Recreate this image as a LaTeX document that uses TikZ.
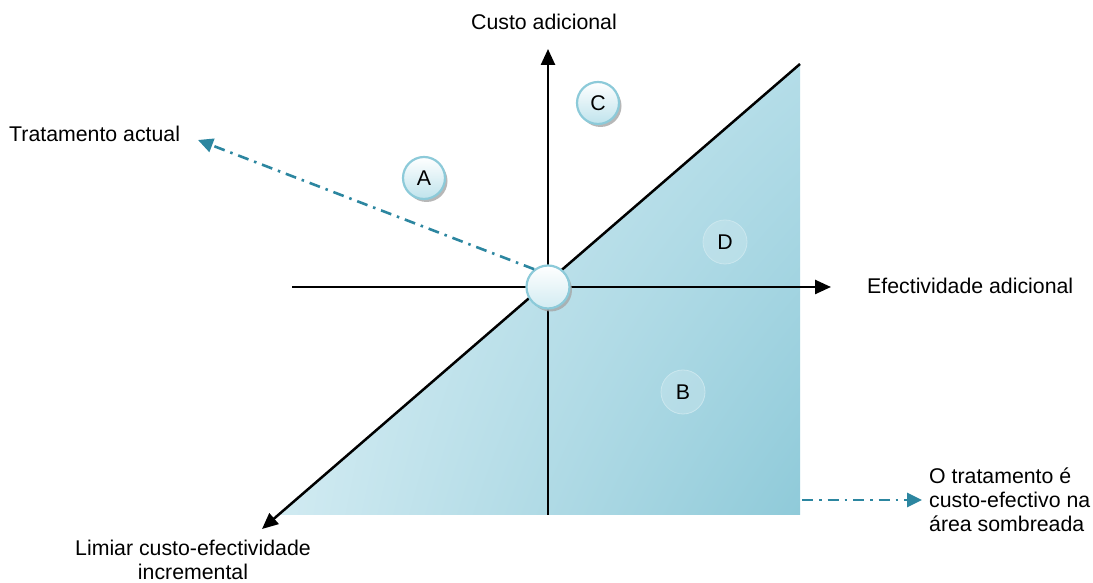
\documentclass[tikz,border=0pt]{standalone}
\usepackage{fontspec}
\setmainfont{Liberation Sans}
\usepackage{xcolor}
\usepackage{tikz}
\usetikzlibrary{arrows.meta,shadows,shadings}
\definecolor{shadelight}{HTML}{D8EEF4}
\definecolor{shademid}{HTML}{B4DDE8}
\definecolor{shadedark}{HTML}{8FCAD9}
\definecolor{ballrim}{HTML}{8CCAD9}
\definecolor{ballfill}{HTML}{BFE3EC}
\definecolor{pointer}{HTML}{2C86A0}
\tikzset{
  axis/.style={line width=2.5pt, draw=black, -{Triangle[length=16pt,width=14pt]}},
  pointerline/.style={line width=2.6pt, draw=pointer, dash pattern=on 11pt off 6pt on 2.5pt off 6pt,
    -{Triangle[length=15pt,width=14pt]}},
  ball/.style={circle, minimum size=42pt, inner sep=0pt, line width=2.2pt, draw=ballrim,
    top color=white, bottom color=ballfill,
    drop shadow={shadow xshift=2.5pt, shadow yshift=-3pt, fill=black!35, opacity=0.8},
    font=\fontsize{21.3}{24}\selectfont},
  faintball/.style={circle, minimum size=44pt, inner sep=0pt, line width=0.8pt, draw=ballrim!45,
    fill=ballrim!20, fill opacity=0.25, text opacity=1, font=\fontsize{21.3}{24}\selectfont},
  label/.style={font=\fontsize{21.3}{24}\selectfont, inner sep=0pt, align=left}
}

\begin{document}
\begin{tikzpicture}[x=1pt,y=1pt]
\useasboundingbox (0,0) rectangle (1093,583);
\fill[white] (0,0) rectangle (1093,583);

% shaded cost-effective region
\shade[upper left=shadelight, upper right=shademid, lower left=shadelight!80!shademid,
  lower right=shadedark] (279,68) -- (800,519) -- (800,68) -- cycle;

\coordinate (ytop) at (548,534);
\coordinate (ybot) at (548,68);
\coordinate (xleft) at (292,296);
\coordinate (xright) at (831,296);
\coordinate (dtop) at (800,519);
\coordinate (dtip) at (262,54);
\coordinate (shadeedge) at (802,83);
\coordinate (toactual) at (198,443);

\draw[axis] (ybot) -- (ytop);
\draw[axis] (xleft) -- (xright);
\draw[axis] (dtop) -- (dtip);

\node[faintball] (D) at (725,341) {D};
\node[faintball] (B) at (683,191) {B};
\node[ball] (A) at (424,405) {A};
\node[ball] (C) at (598,480) {C};
\node[ball, minimum size=43pt, top color=white, bottom color=ballfill!70] (origin) at (548,296) {};

\node[label, anchor=base] (custo) at (544,553) {Custo adicional};
\node[label, anchor=base west] (actual) at (9,441) {Tratamento actual};
\node[label, anchor=base west] (efect) at (867,289) {Efectividade adicional};
\node[label, align=center, anchor=base] (limiar) at (193,3) {Limiar custo-efectividade\\incremental};
\node[label, anchor=base west] (sombra) at (929,51) {O tratamento é\\custo-efectivo na\\área sombreada};

\draw[pointerline] (origin.128) -- (toactual);
\draw[pointerline] (shadeedge) -- ++(120,0) coordinate (tonote);

\end{tikzpicture}
\end{document}
